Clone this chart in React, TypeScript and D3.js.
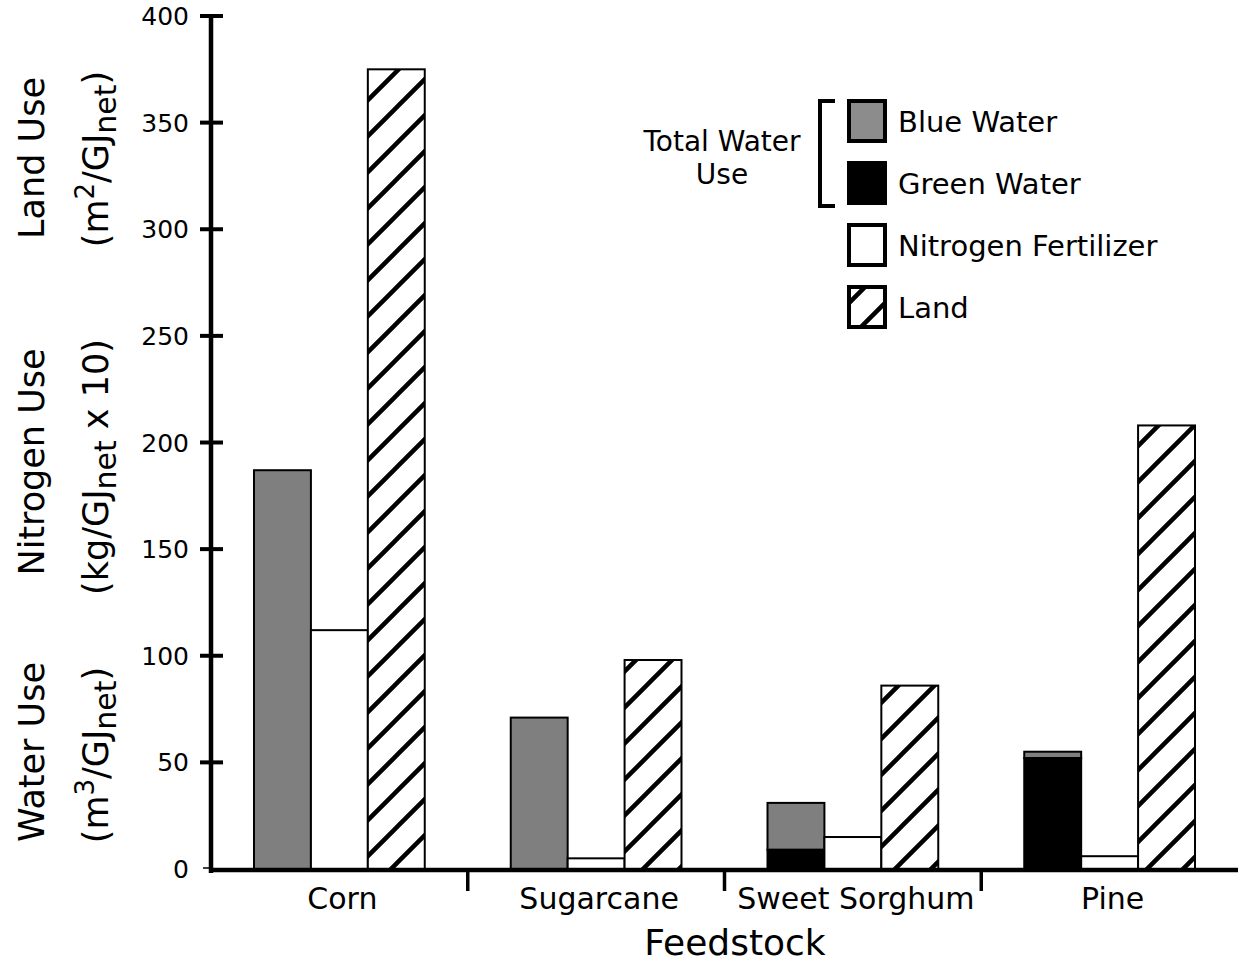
import React, { useEffect, useRef } from "react";
import * as d3 from "d3";

const categories = ["Corn", "Sugarcane", "Sweet Sorghum", "Pine"];
const greenWater = [0, 0, 9, 52];
const blueWater = [187, 71, 22, 3];
const nitrogen = [112, 5, 15, 6];
const land = [375, 98, 86, 208];
const yTicks = [0, 50, 100, 150, 200, 250, 300, 350, 400];
const seriesKeys = ["water", "nitrogen", "land"];

const W = 1238;
const H = 966;
const FONT = "'DejaVu Sans', sans-serif";

export default function App() {
  const ref = useRef<SVGSVGElement | null>(null);

  useEffect(() => {
    document.body.style.margin = "0";
    const svg = d3.select(ref.current);
    svg.selectAll("*").remove();

    const left = 211;
    const right = 1238;
    const top = 16;
    const bottom = 869;

    const y = d3.scaleLinear().domain([0, 400]).range([bottom, top]);
    const x0 = d3.scaleBand().domain(categories).range([left, right]).padding(0);
    const bw = x0.bandwidth();
    const x1 = d3.scaleBand().domain(seriesKeys).range([43, bw - 43]).padding(0);

    const defs = svg.append("defs");
    const pat = defs
      .append("pattern")
      .attr("id", "hatch")
      .attr("patternUnits", "userSpaceOnUse")
      .attr("width", 36)
      .attr("height", 36);
    pat.append("rect").attr("width", 36).attr("height", 36).attr("fill", "#fff");
    pat
      .append("path")
      .attr("d", "M-4,40 L40,-4 M-10,10 L10,-10 M26,46 L46,26")
      .attr("stroke", "#000")
      .attr("stroke-width", 4.5);

    const g = svg.append("g");

    categories.forEach((c, i) => {
      const bx = x0(c)!;
      const wx = bx + x1("water")!;
      const w = x1.bandwidth();
      const gTop = y(greenWater[i]);
      const tTop = y(greenWater[i] + blueWater[i]);
      g.append("rect")
        .attr("x", wx)
        .attr("y", tTop)
        .attr("width", w)
        .attr("height", gTop - tTop)
        .attr("fill", "#7f7f7f")
        .attr("stroke", "#000")
        .attr("stroke-width", 2);
      if (greenWater[i] > 0) {
        g.append("rect")
          .attr("x", wx)
          .attr("y", gTop)
          .attr("width", w)
          .attr("height", bottom - gTop)
          .attr("fill", "#000")
          .attr("stroke", "#000")
          .attr("stroke-width", 2);
      }
      const nx = bx + x1("nitrogen")!;
      g.append("rect")
        .attr("x", nx)
        .attr("y", y(nitrogen[i]))
        .attr("width", w)
        .attr("height", bottom - y(nitrogen[i]))
        .attr("fill", "#fff")
        .attr("stroke", "#000")
        .attr("stroke-width", 2);
      const lx = bx + x1("land")!;
      g.append("rect")
        .attr("x", lx)
        .attr("y", y(land[i]))
        .attr("width", w)
        .attr("height", bottom - y(land[i]))
        .attr("fill", "url(#hatch)")
        .attr("stroke", "#000")
        .attr("stroke-width", 2);
    });

    // y axis
    g.append("line")
      .attr("x1", left)
      .attr("x2", left)
      .attr("y1", top - 2)
      .attr("y2", bottom + 4)
      .attr("stroke", "#000")
      .attr("stroke-width", 4.5);
    yTicks.forEach((t) => {
      const yy = y(t);
      if (t === 0) {
        g.append("line")
          .attr("x1", 203)
          .attr("x2", left)
          .attr("y1", yy - 1)
          .attr("y2", yy - 1)
          .attr("stroke", "#000")
          .attr("stroke-width", 1.5);
      } else {
        g.append("line")
          .attr("x1", 200)
          .attr("x2", 223)
          .attr("y1", yy)
          .attr("y2", yy)
          .attr("stroke", "#000")
          .attr("stroke-width", 4);
      }
      g.append("text")
        .attr("x", 189)
        .attr("y", yy + 9)
        .attr("text-anchor", "end")
        .attr("font-family", FONT)
        .attr("font-size", 25)
        .text(String(t));
    });

    // x axis
    g.append("line")
      .attr("x1", left - 2)
      .attr("x2", right)
      .attr("y1", bottom + 1)
      .attr("y2", bottom + 1)
      .attr("stroke", "#000")
      .attr("stroke-width", 4.5);
    categories.forEach((c, i) => {
      if (i > 0) {
        const sx = x0(c)!;
        g.append("line")
          .attr("x1", sx)
          .attr("x2", sx)
          .attr("y1", bottom)
          .attr("y2", bottom + 22)
          .attr("stroke", "#000")
          .attr("stroke-width", 3.5);
      }
      g.append("text")
        .attr("x", x0(c)! + bw / 2 + 3)
        .attr("y", 909)
        .attr("text-anchor", "middle")
        .attr("font-family", FONT)
        .attr("font-size", 30)
        .text(c);
    });
    g.append("text")
      .attr("x", 735)
      .attr("y", 955)
      .attr("text-anchor", "middle")
      .attr("font-family", FONT)
      .attr("font-size", 36)
      .text("Feedstock");

    // y axis titles
    const titleFs = 35;
    const addRot = (cx: number, cy: number, build: (t: any) => void) => {
      const t = g
        .append("text")
        .attr("transform", `translate(${cx},${cy}) rotate(-90)`)
        .attr("text-anchor", "middle")
        .attr("font-family", FONT)
        .attr("font-size", titleFs);
      build(t);
    };
    addRot(44, 158, (t) => t.text("Land Use"));
    addRot(108, 159, (t) => {
      t.append("tspan").text("(m");
      t.append("tspan").attr("font-size", 26).attr("dy", -14).text("2");
      t.append("tspan").attr("dy", 14).text("/GJ");
      t.append("tspan").attr("font-size", 30).attr("dy", 8).text("net");
      t.append("tspan").attr("dy", -8).text(")");
    });
    addRot(44, 462, (t) => t.text("Nitrogen Use"));
    addRot(108, 467, (t) => {
      t.append("tspan").text("(kg/GJ");
      t.append("tspan").attr("font-size", 30).attr("dy", 8).text("net");
      t.append("tspan").attr("dy", -8).text(" x 10)");
    });
    addRot(44, 752, (t) => t.text("Water Use"));
    addRot(108, 755, (t) => {
      t.append("tspan").text("(m");
      t.append("tspan").attr("font-size", 26).attr("dy", -14).text("3");
      t.append("tspan").attr("dy", 14).text("/GJ");
      t.append("tspan").attr("font-size", 30).attr("dy", 8).text("net");
      t.append("tspan").attr("dy", -8).text(")");
    });

    // legend
    const legendItems = [
      { label: "Blue Water", fill: "#8c8c8c" },
      { label: "Green Water", fill: "#000" },
      { label: "Nitrogen Fertilizer", fill: "#fff" },
      { label: "Land", fill: "url(#hatch)" },
    ];
    const lg = g.append("g");
    legendItems.forEach((it, i) => {
      const ly = 101 + i * 62;
      lg.append("rect")
        .attr("x", 849)
        .attr("y", ly)
        .attr("width", 36)
        .attr("height", 40)
        .attr("fill", it.fill)
        .attr("stroke", "#000")
        .attr("stroke-width", 4);
      lg.append("text")
        .attr("x", 898)
        .attr("y", ly + 31)
        .attr("font-family", FONT)
        .attr("font-size", 29)
        .text(it.label);
    });
    lg.append("path")
      .attr("d", "M835,101 L820,101 L820,206 L835,206")
      .attr("fill", "none")
      .attr("stroke", "#000")
      .attr("stroke-width", 4);
    lg.append("text")
      .attr("x", 722)
      .attr("y", 151)
      .attr("text-anchor", "middle")
      .attr("font-family", FONT)
      .attr("font-size", 28)
      .text("Total Water");
    lg.append("text")
      .attr("x", 722)
      .attr("y", 184)
      .attr("text-anchor", "middle")
      .attr("font-family", FONT)
      .attr("font-size", 28)
      .text("Use");
  }, []);

  return <svg ref={ref} width={W} height={H} style={{ display: "block" }} />;
}
